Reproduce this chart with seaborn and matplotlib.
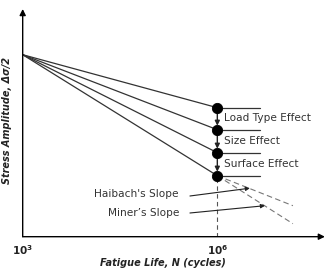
import numpy as np
import pandas as pd
import matplotlib.pyplot as plt
import seaborn as sns

sns.set_style("white")
plt.rcParams['font.family'] = ['DejaVu Sans']

# S-N curve data (x = log10 N, y = relative stress amplitude)
n_start = 3
n_knee = 6
s_start = 182
curve_names = ['Base', 'Load Type', 'Size', 'Surface']
s_knee = [129, 107, 84, 61]
effect_labels = ['Load Type Effect', 'Size Effect', 'Surface Effect']
slope_names = ["Haibach's Slope", "Miner\u2019s Slope"]
slope_end_n = 7.165
slope_end_s = [31, 13]

rows = []
for name, s in zip(curve_names, s_knee):
    rows.append({'curve': name, 'logN': n_start, 'S': s_start})
    rows.append({'curve': name, 'logN': n_knee, 'S': s})
df = pd.DataFrame(rows)
knees = pd.DataFrame({'logN': [n_knee] * len(s_knee), 'S': s_knee})

fig = plt.figure(figsize=(3.26, 2.73), dpi=100)
ax = fig.add_axes([0.0696, 0.133, 0.927, 0.834])

sns.lineplot(data=df, x='logN', y='S', units='curve', estimator=None,
             color='#333333', linewidth=0.9, ax=ax, legend=False)
sns.scatterplot(data=knees, x='logN', y='S', color='black', s=55,
                edgecolor='black', zorder=5, ax=ax)

# horizontal ticks at each knee
for s in s_knee:
    ax.plot([n_knee, 6.656], [s, s], color='#333333', linewidth=0.9)

# arrows between knees
for s1, s2 in zip(s_knee[:-1], s_knee[1:]):
    ax.annotate('', xy=(n_knee, s2 + 4), xytext=(n_knee, s1),
                arrowprops=dict(arrowstyle='-|>', color='#222222', lw=1.0,
                                mutation_scale=7, shrinkA=0, shrinkB=0))
    ax.plot([n_knee, n_knee], [s2 + 4, s2], color='#222222', linewidth=1.0)

for lab, s1, s2 in zip(effect_labels, s_knee[:-1], s_knee[1:]):
    ax.text(6.102, (s1 + s2) / 2 + 0.5, lab, fontsize=7.6, color='#333333',
            va='center', ha='left')

# dashed extensions
for se in slope_end_s:
    ax.plot([n_knee, slope_end_n], [s_knee[-1], se], color='#777777',
            linewidth=0.8, linestyle=(0, (5, 3)))
ax.plot([n_knee, n_knee], [0, s_knee[-1]], color='#555555', linewidth=0.8,
        linestyle=(0, (4, 3)))

# slope labels with arrows
label_y = [42.7, 23.7]
arrow_from = [(5.578, 40.7), (5.578, 23.7)]
arrow_to = [(6.502, 48.5), (6.734, 31)]
for name, ly, a0, a1 in zip(slope_names, label_y, arrow_from, arrow_to):
    ax.text(5.408, ly, name, fontsize=7.6, color='#333333', ha='right',
            va='center')
    ax.annotate('', xy=a1, xytext=a0,
                arrowprops=dict(arrowstyle='-|>', color='#222222', lw=0.8,
                                mutation_scale=6, shrinkA=0, shrinkB=0))

ax.set_xlim(3, 7.658)
ax.set_ylim(0, 227.7)
ax.set_xticks([])
ax.set_yticks([])
ax.set_xlabel('')
ax.set_ylabel('')
for sp in ax.spines.values():
    sp.set_visible(False)

# axes with arrowheads
ax.annotate('', xy=(1.0, 0), xytext=(0, 0), xycoords='axes fraction',
            arrowprops=dict(arrowstyle='-|>', color='black', lw=1.0,
                            mutation_scale=9, shrinkA=0, shrinkB=0))
ax.annotate('', xy=(0, 1.0), xytext=(0, 0), xycoords='axes fraction',
            arrowprops=dict(arrowstyle='-|>', color='black', lw=1.0,
                            mutation_scale=9, shrinkA=0, shrinkB=0))

for xv, lab in [(n_start, r'$\mathbf{10^3}$'), (n_knee, r'$\mathbf{10^6}$')]:
    ax.text(xv, -13, lab, fontsize=7.5, ha='center', va='center',
            family='DejaVu Serif', color='#222222')

fig.text(0.50, 0.037, 'Fatigue Life, N (cycles)', fontsize=7,
         fontweight='bold', fontstyle='italic', ha='center', va='center',
         color='#222222')
fig.text(0.022, 0.56, 'Stress Amplitude, \u0394\u03c3/2', fontsize=7,
         fontweight='bold', fontstyle='italic', ha='center', va='center',
         rotation=90, color='#222222')

fig.savefig('out.png', dpi=100)
